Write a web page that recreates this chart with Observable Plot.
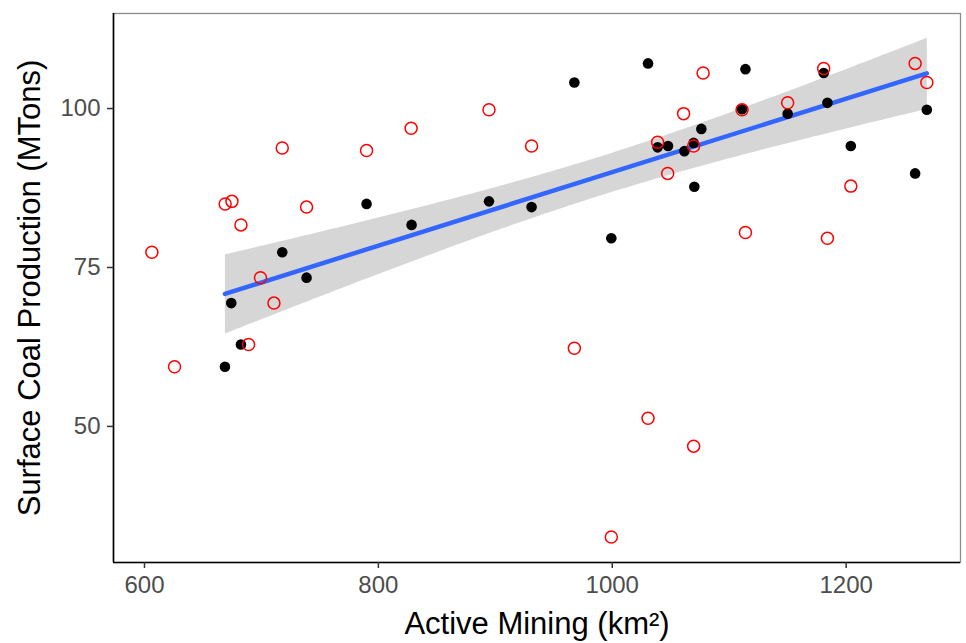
<!DOCTYPE html>
<html><head><meta charset="utf-8">
<script src="https://cdn.jsdelivr.net/npm/d3@7"></script>
<script src="https://cdn.jsdelivr.net/npm/@observablehq/plot@0.6"></script>
<style>
html,body{margin:0;padding:0;background:#fff;}
#chart svg{display:block;}
</style>
</head><body><div id="chart"></div>
<script>
// Black series (filled points, used for the linear fit)
const blackX = [668.8, 674.2, 682.5, 717.8, 738.6, 789.9, 828.4, 894.6, 931.0, 967.6, 999.2, 1030.6, 1038.8, 1047.7, 1061.7, 1069.6, 1070.2, 1076.2, 1111.0, 1113.9, 1150.0, 1180.8, 1184.0, 1204.0, 1259.0, 1269.0];
const blackY = [59.4, 69.4, 62.9, 77.4, 73.4, 85.0, 81.7, 85.4, 84.5, 104.1, 79.6, 107.1, 93.9, 94.1, 93.3, 94.6, 87.7, 96.8, 99.9, 106.2, 99.2, 105.6, 100.9, 94.1, 89.8, 99.8];
// Red series (open circles)
const redX = [606.3, 625.7, 669.0, 674.8, 682.5, 689.0, 699.2, 710.7, 717.8, 738.6, 789.9, 828.0, 894.6, 931.0, 967.6, 999.2, 1030.6, 1038.8, 1047.4, 1061.0, 1069.6, 1069.6, 1077.7, 1111.0, 1113.9, 1150.0, 1180.8, 1184.0, 1204.0, 1259.0, 1269.0];
const redY = [77.4, 59.4, 85.0, 85.4, 81.7, 62.9, 73.4, 69.4, 93.8, 84.5, 93.4, 96.9, 99.8, 94.1, 62.3, 32.6, 51.3, 94.7, 89.8, 99.2, 94.1, 46.9, 105.6, 99.8, 80.5, 100.9, 106.3, 79.6, 87.8, 107.1, 104.1];
const xTicks = [600, 800, 1000, 1200];
const yTicks = [50, 75, 100];
const xTitle = "Active Mining (km²)";
const yTitle = "Surface Coal Production (MTons)";

const black = blackX.map((x, i) => ({x, y: blackY[i]}));
const red = redX.map((x, i) => ({x, y: redY[i]}));
const xDom = [573.5, 1297.8];
const yDom = [28.6, 114.95];

const font = "'Liberation Sans', Arial, Helvetica, sans-serif";
const chart = Plot.plot({
  width: 966, height: 643,
  marginLeft: 113, marginRight: 6, marginTop: 13, marginBottom: 81,
  x: {domain: xDom},
  y: {domain: yDom},
  style: {fontFamily: font, background: "#fff", overflow: "visible"},
  marks: [
    Plot.frame({stroke: "#8c8c8c", strokeWidth: 1.3}),
    Plot.linearRegressionY(black, {x: "x", y: "y", stroke: "#3366FF", fill: "#999999", fillOpacity: 0.4, strokeWidth: 4.5, ci: 0.95}),
    Plot.dot(black, {x: "x", y: "y", r: 5.3, fill: "black"}),
    Plot.dot(red, {x: "x", y: "y", r: 6, stroke: "#FF0000", strokeWidth: 1.5, fill: "none"}),
    Plot.ruleX([xDom[0]], {stroke: "black", strokeWidth: 1.6}),
    Plot.ruleY([yDom[0]], {stroke: "black", strokeWidth: 1.6}),
    Plot.axisX(xTicks, {tickSize: 6, tickPadding: 7, fontSize: 24, stroke: "#333", strokeWidth: 1.5, fill: "#4d4d4d", label: null, tickFormat: d => String(d)}),
    Plot.axisY(yTicks, {tickSize: 6, tickPadding: 7, fontSize: 24, stroke: "#333", strokeWidth: 1.5, fill: "#4d4d4d", label: null, tickFormat: d => String(d)}),
    Plot.text([xTitle], {frameAnchor: "bottom", dy: 62, fontSize: 31, fill: "black", lineAnchor: "middle", textAnchor: "middle"}),
    Plot.text([yTitle], {frameAnchor: "left", dx: -83, rotate: -90, fontSize: 31, fill: "black", lineAnchor: "middle", textAnchor: "middle"})
  ]
});
document.getElementById("chart").appendChild(chart);
</script>
</body></html>
